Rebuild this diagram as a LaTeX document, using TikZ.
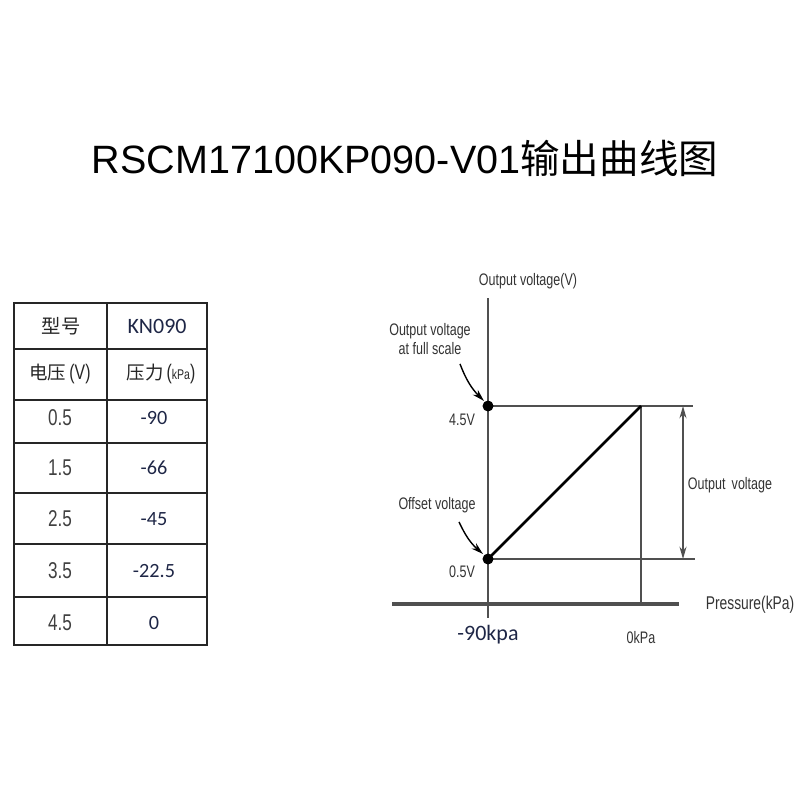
\documentclass[tikz,border=0pt]{standalone}
\usepackage{fontspec}
\usepackage{xcolor}
\usepackage{tikz}
\usetikzlibrary{arrows.meta}
\setmainfont{Liberation Sans}
\newfontfamily\cjk{Noto Sans CJK SC}
\newfontfamily\narrow[FakeStretch=0.75]{Liberation Sans}
\newfontfamily\calib{Carlito}
\definecolor{inkblue}{RGB}{30,38,70}
\definecolor{axisgray}{RGB}{80,80,80}

\begin{document}
\begin{tikzpicture}[x=0.02cm, y=-0.02cm, >={Stealth[length=7pt,width=4pt]},
  tabline/.style={line width=1.2pt, black!85},
  thinline/.style={line width=0.8pt, axisgray},
  label/.style={font=\narrow\fontsize{9.5}{12}\selectfont, text=black!80, inner sep=1pt},
  head/.style={font=\cjk\fontsize{11}{13}\selectfont, text=black!85},
  cell/.style={font=\narrow\fontsize{13}{15}\selectfont, text=black!75},
  valcell/.style={font=\calib\fontsize{11.5}{13}\selectfont, text=inkblue}]
\useasboundingbox (0,0) rectangle (800,800);

% Title
\node (title) at (405,158) {\fontsize{22.5}{26}\selectfont RSCM17100KP090-V01{\cjk 输出曲线图}};

% Table grid
\draw[tabline] (14,303) rectangle (207,645);
\draw[tabline] (107,303) -- (107,645);
\foreach \y in {349,400,443,493,544,597}
  \draw[tabline] (14,\y) -- (207,\y);

% Table header
\node[head] (model) at (61,326) {型号};
\node[valcell, font=\calib\fontsize{12.5}{14}\selectfont] (kn) at (157,326) {KN090};
\node[head, font=\cjk\fontsize{10.5}{13}\selectfont] (volt) at (60,374) {电压\,{\narrow\fontsize{12}{13}\selectfont (V)}};
\node[head, font=\cjk\fontsize{10.5}{13}\selectfont] (pres) at (161,374) {压力\,{\narrow\fontsize{12}{13}\selectfont (}{\narrow\fontsize{8}{9}\selectfont kPa}{\narrow\fontsize{12}{13}\selectfont )}};

% Table values
\foreach \v/\p/\y in {0.5/-90/418, 1.5/-66/468, 2.5/-45/519, 3.5/-22.5/571, 4.5/0/623} {
  \node[cell] (v\y) at (60,\y) {\v};
  \node[valcell] (p\y) at (154,\y) {\p};
}

% Graph points
\coordinate (top) at (488,298);
\coordinate (bot) at (488,618);
\coordinate (full) at (488,406);
\coordinate (offs) at (488,559);
\coordinate (fullend) at (693,406);
\coordinate (offsend) at (695,559);
\coordinate (zero) at (641,406);
\coordinate (zerobot) at (641,604);
\coordinate (pleft) at (392,604);
\coordinate (pright) at (679,604);
\coordinate (span1) at (683,406);
\coordinate (span2) at (683,559);

% Axes
\draw[thinline] (top) -- (bot);
\draw[line width=2pt, axisgray] (pleft) -- (pright);

% Output levels
\draw[thinline] (full) -- (fullend);
\draw[thinline] (offs) -- (offsend);
\draw[thinline] (zero) -- (zerobot);
\draw[line width=1.5pt, black] (offs) -- (zero);
\draw[thinline, <->] (span1) -- (span2);

% Dots
\filldraw[black] (full) circle (2.9pt);
\filldraw[black] (offs) circle (2.9pt);

% Labels
\node[label] (ylab) at (528,281) {Output voltage(V)};
\node[label, align=center] (fslab) at (430,339) {Output voltage\\[-1pt]at full scale};
\node[label] (oslab) at (437,505) {Offset voltage};
\node[label, anchor=east] (v45) at (477,420) {4.5V};
\node[label, anchor=east] (v05) at (477,572) {0.5V};
\node[label] (outlab) at (730,485) {Output\, voltage};
\node[label, font=\narrow\fontsize{10.5}{12}\selectfont] (xlab) at (750,605) {Pressure(kPa)};
\node[label] (zlab) at (641,638) {0kPa};
\node[font=\calib\fontsize{12.5}{14}\selectfont, text=inkblue] (mlab) at (488,635) {-90kpa};

% Pointer arrows
\draw[thinline, black, ->] (fslab.south) ++(30,7) to[bend right=12] (484,401);
\draw[thinline, black, ->] (oslab.south) ++(22,7) to[bend right=12] (483,554);
\end{tikzpicture}
\end{document}
